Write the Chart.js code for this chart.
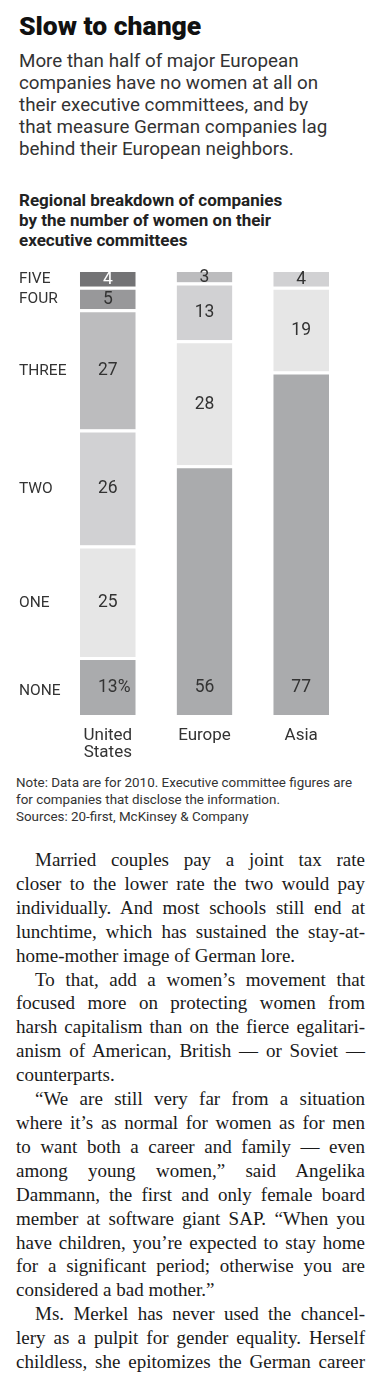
<!DOCTYPE html>
<html>
<head>
<meta charset="utf-8">
<script src="https://cdn.jsdelivr.net/npm/chart.js@4"></script>
<style>
  html, body { margin: 0; padding: 0; background: #fff; }
  body { width: 380px; height: 1392px; position: relative; overflow: hidden; }
  .title { position: absolute; left: 19px; top: 11px; font: 900 26.5px/30px Roboto, "Liberation Sans", sans-serif; color: #111; }
  .dek { position: absolute; left: 19px; top: 50px; font: 400 18.8px/22px Roboto, "Liberation Sans", sans-serif; color: #333; white-space: nowrap; }
  .chartHead { position: absolute; left: 19px; top: 190px; font: 700 17px/20px Roboto, "Liberation Sans", sans-serif; color: #222; white-space: nowrap; }
  #chartBox { position: absolute; left: 0; top: 255px; width: 380px; height: 510px; }
  #chartBox canvas { display: block; }
  .note { position: absolute; left: 16px; top: 774px; font: 400 13.4px/17px Roboto, "Liberation Sans", sans-serif; color: #333; white-space: nowrap; }
  .story { position: absolute; left: 16px; top: 848px; width: 349px; font: 400 19px/23.9px "Liberation Serif", "DejaVu Serif", serif; color: #1a1a1a; }
  .story div { text-align: justify; text-align-last: justify; }
  .story div.end { text-align-last: left; }
  .story div.ind { text-indent: 19px; }
</style>
</head>
<body>
<div class="title">Slow to change</div>
<div class="dek">More than half of major European<br>companies have no women at all on<br>their executive committees, and by<br>that measure German companies lag<br>behind their European neighbors.</div>
<div class="chartHead">Regional breakdown of companies<br>by the number of women on their<br>executive committees</div>
<div id="chartBox"><canvas id="chart" width="380" height="510"></canvas></div>
<div class="note">Note: Data are for 2010. Executive committee figures are<br>for companies that disclose the information.<br>Sources: 20-first, McKinsey &amp; Company</div>
<div class="story">
  <div class="ind">Married couples pay a joint tax rate</div>
  <div>closer to the lower rate the two would pay</div>
  <div>individually. And most schools still end at</div>
  <div>lunchtime, which has sustained the stay-at-</div>
  <div class="end">home-mother image of German lore.</div>
  <div class="ind">To that, add a women’s movement that</div>
  <div>focused more on protecting women from</div>
  <div>harsh capitalism than on the fierce egalitari-</div>
  <div>anism of American, British — or Soviet —</div>
  <div class="end">counterparts.</div>
  <div class="ind">“We are still very far from a situation</div>
  <div>where it’s as normal for women as for men</div>
  <div>to want both a career and family — even</div>
  <div>among young women,” said Angelika</div>
  <div>Dammann, the first and only female board</div>
  <div>member at software giant SAP. “When you</div>
  <div>have children, you’re expected to stay home</div>
  <div>for a significant period; otherwise you are</div>
  <div class="end">considered a bad mother.”</div>
  <div class="ind">Ms. Merkel has never used the chancel-</div>
  <div>lery as a pulpit for gender equality. Herself</div>
  <div>childless, she epitomizes the German career</div>
</div>

<script>
  // regions across, women-on-committee counts stacked bottom to top
  const regions = [["United", "States"], "Europe", "Asia"];
  const levels = ["NONE", "ONE", "TWO", "THREE", "FOUR", "FIVE"];
  const noneVals = [13, 56, 77];
  const oneVals = [25, 28, 19];
  const twoVals = [26, 13, 4];
  const threeVals = [27, 3, 0];
  const fourVals = [5, 0, 0];
  const fiveVals = [4, 0, 0];

  const series = [noneVals, oneVals, twoVals, threeVals, fourVals, fiveVals];
  const fills = ["#aaabad", "#e6e6e6", "#d1d1d3", "#bcbcbe", "#98989a", "#737375"];
  const GAP = 3;
  const FONT = "Roboto, 'Liberation Sans', sans-serif";

  // numbers inside the segments, plus the row names beside the first column
  const segmentLabels = {
    id: "segmentLabels",
    afterDatasetsDraw(chart) {
      const ctx = chart.ctx;
      const y = chart.scales.y;
      ctx.save();
      ctx.textBaseline = "middle";
      chart.data.datasets.forEach(function (ds, di) {
        const meta = chart.getDatasetMeta(di);
        ctx.font = "17.5px " + FONT;
        meta.data.forEach(function (bar, i) {
          const v = ds.data[i];
          if (!v) return;
          let cy = (bar.y + GAP + bar.base) / 2;
          if (di === 0) cy = y.getPixelForValue(6.5) + 2;
          ctx.fillStyle = di === 5 ? "#ffffff" : "#333333";
          ctx.textAlign = "center";
          const txt = String(v);
          ctx.fillText(txt, bar.x, cy);
          if (di === 0 && i === 0) {
            ctx.textAlign = "left";
            ctx.fillText("%", bar.x + ctx.measureText(txt).width / 2, cy);
          }
        });
        // row name next to the United States column
        const first = meta.data[0];
        ctx.font = "15.5px " + FONT;
        ctx.fillStyle = "#333333";
        ctx.textAlign = "left";
        ctx.fillText(levels[di], 19, (first.y + GAP + first.base) / 2 + (di === 0 ? 4 : 0));
      });
      ctx.restore();
    }
  };

  new Chart(document.getElementById("chart"), {
    type: "bar",
    data: {
      labels: regions,
      datasets: series.map(function (vals, i) {
        return {
          label: levels[i],
          data: vals,
          backgroundColor: fills[i],
          borderColor: "#ffffff",
          borderWidth: { top: GAP, right: 0, bottom: 0, left: 0 },
          borderSkipped: false,
          inflateAmount: 0,
          barPercentage: 1,
          categoryPercentage: 0.577
        };
      })
    },
    options: {
      responsive: false,
      maintainAspectRatio: false,
      animation: false,
      devicePixelRatio: 1,
      layout: { padding: { top: 14, left: 59.5, right: 30.5, bottom: 0 } },
      plugins: { legend: { display: false }, tooltip: { enabled: false } },
      scales: {
        x: {
          stacked: true,
          grid: { display: false, drawTicks: false },
          border: { display: false },
          ticks: { color: "#333", font: { family: FONT, size: 17, lineHeight: 1 }, padding: 12, maxRotation: 0 },
          afterFit: function (axis) { axis.height = 50; }
        },
        y: {
          stacked: true,
          display: false,
          min: 0,
          max: 100
        }
      }
    },
    plugins: [segmentLabels]
  });
</script>
</body>
</html>
